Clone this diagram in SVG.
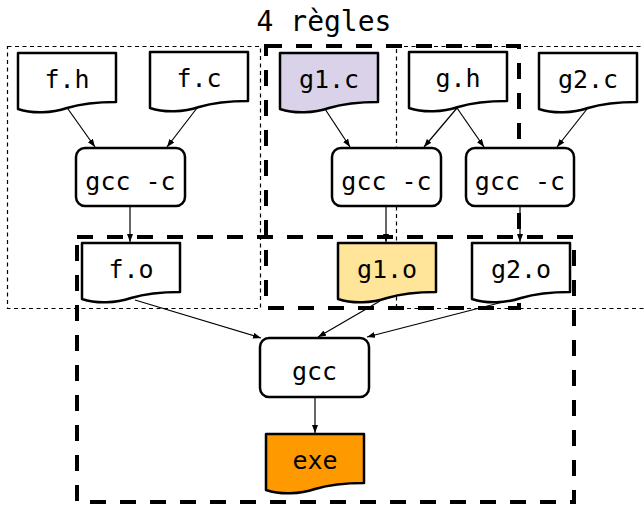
<svg xmlns="http://www.w3.org/2000/svg" width="644" height="506" viewBox="0 0 644 506">
<style>
.t{font-family:"DejaVu Sans Mono","Liberation Mono",monospace;font-size:25px;fill:#000;text-anchor:middle}
.title{font-family:"DejaVu Sans Mono","Liberation Mono",monospace;font-size:28px;fill:#000;text-anchor:middle}
.doc{stroke:#000;stroke-width:2.5;fill:#fff;stroke-linejoin:round}
.box{stroke:#000;stroke-width:2.5;fill:#fff}
.thin{fill:none;stroke:#000;stroke-width:1.2;stroke-dasharray:4 3.5}
.thick{fill:none;stroke:#000;stroke-width:4;stroke-dasharray:16 14}
.e{stroke:#000;stroke-width:1.2;fill:none;marker-end:url(#ah)}
</style>
<defs>
<marker id="ah" markerUnits="userSpaceOnUse" markerWidth="9" markerHeight="7" refX="8" refY="3" orient="auto">
<path d="M0,0 L8,3 L0,6 Z" fill="#000"/>
</marker>
</defs>
<rect width="644" height="506" fill="#fff"/>
<text class="title" x="324" y="31">4 règles</text>
<g id="rules">
<rect class="thin" x="7.5" y="46.5" width="253" height="262"/>
<rect class="thin" x="396.5" y="46.5" width="270" height="262"/>
<rect class="thick" x="266" y="46" width="253" height="262"/>
<rect class="thick" x="77" y="237" width="497" height="265"/>
</g>
<g id="connectors">
<line class="e" x1="68" y1="109" x2="95" y2="147"/>
<line class="e" x1="197" y1="108" x2="167" y2="147"/>
<line class="e" x1="130" y1="206" x2="130" y2="242"/>
<line class="e" x1="325" y1="109" x2="350" y2="147"/>
<line class="e" x1="457" y1="108" x2="424" y2="147"/>
<line class="e" x1="457" y1="108" x2="484" y2="147"/>
<line class="e" x1="587" y1="109" x2="557" y2="147"/>
<line class="e" x1="386" y1="206" x2="386" y2="242"/>
<line class="e" x1="520" y1="206" x2="520" y2="242"/>
<line class="e" x1="135" y1="300" x2="261" y2="338"/>
<line class="e" x1="380" y1="301" x2="318" y2="337"/>
<line class="e" x1="503" y1="302" x2="367" y2="337"/>
<line class="e" x1="315" y1="397" x2="315" y2="433"/>
</g>
<g id="fh"><path class="doc" d="M18,53 H116 V102 C91,102 77,105 67,108 C52,113 33,114 18,109 Z"/><text class="t" x="67" y="88">f.h</text></g>
<g id="fc"><path class="doc" d="M150,52 H248 V101 C223,101 209,104 199,107 C184,112 165,113 150,108 Z"/><text class="t" x="199" y="87">f.c</text></g>
<g id="g1c"><path class="doc" style="fill:#d9d2e9" d="M280,53 H378 V102 C353,102 339,105 329,108 C314,113 295,114 280,109 Z"/><text class="t" x="329" y="88">g1.c</text></g>
<g id="gh"><path class="doc" d="M409,52 H507 V101 C482,101 468,104 458,107 C443,112 424,113 409,108 Z"/><text class="t" x="458" y="87">g.h</text></g>
<g id="g2c"><path class="doc" d="M539,53 H637 V102 C612,102 598,105 588,108 C573,113 554,114 539,109 Z"/><text class="t" x="588" y="88">g2.c</text></g>
<g id="gcc1"><rect class="box" x="76" y="148" width="109" height="58" rx="9"/><text class="t" x="130.5" y="190">gcc -c</text></g>
<g id="gcc2"><rect class="box" x="332" y="148" width="109" height="58" rx="9"/><text class="t" x="386.5" y="190">gcc -c</text></g>
<g id="gcc3"><rect class="box" x="466" y="148" width="108" height="58" rx="9"/><text class="t" x="520" y="190">gcc -c</text></g>
<g id="fo"><path class="doc" d="M82,243 H180 V292 C155,292 141,295 131,298 C116,303 97,304 82,299 Z"/><text class="t" x="131" y="278">f.o</text></g>
<g id="g1o"><path class="doc" style="fill:#ffe599" d="M338,243 H436 V292 C411,292 397,295 387,298 C372,303 353,304 338,299 Z"/><text class="t" x="387" y="278">g1.o</text></g>
<g id="g2o"><path class="doc" d="M472,243 H570 V292 C545,292 531,295 521,298 C506,303 487,304 472,299 Z"/><text class="t" x="521" y="278">g2.o</text></g>
<g id="gcc"><rect class="box" x="260" y="338" width="109" height="59" rx="9"/><text class="t" x="314.5" y="380">gcc</text></g>
<g id="exe"><path class="doc" style="fill:#ff9900" d="M266,434 H364 V483 C339,483 325,486 315,489 C300,494 281,495 266,490 Z"/><text class="t" x="315" y="469">exe</text></g>
</svg>
